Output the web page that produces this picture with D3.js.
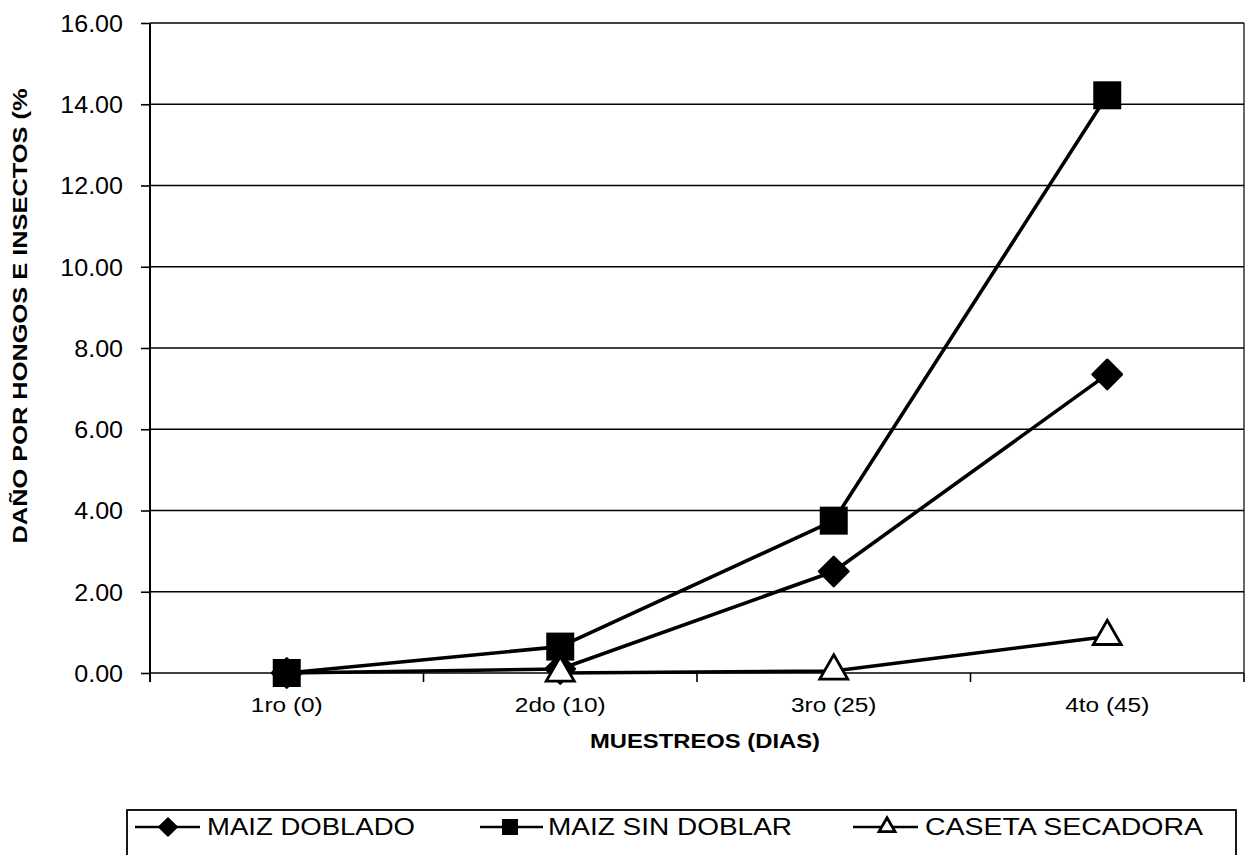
<!DOCTYPE html>
<html>
<head>
<meta charset="utf-8">
<script src="https://cdn.jsdelivr.net/npm/d3@7"></script>
<style>
  html, body { margin: 0; padding: 0; background: #fff; }
  svg { display: block; }
  text { font-family: "Liberation Sans", Arial, sans-serif; fill: #000; }
</style>
</head>
<body>
<svg id="chart" width="1246" height="855"></svg>
<script>
// Sampling rounds (days since start)
const categories = ["1ro (0)", "2do (10)", "3ro (25)", "4to (45)"];

// Damage by fungi and insects (%) per treatment
const maizDoblado    = [0.00, 0.10, 2.50, 7.35];
const maizSinDoblar  = [0.00, 0.65, 3.75, 14.22];
const casetaSecadora = [null, 0.00, 0.05, 0.90];

const seriesNames = ["MAIZ DOBLADO", "MAIZ SIN DOBLAR", "CASETA SECADORA"];
const yTicks = [0, 2, 4, 6, 8, 10, 12, 14, 16];

const yTitle = "DAÑO POR HONGOS E INSECTOS (%";
const xTitle = "MUESTREOS (DIAS)";

const svg = d3.select("#chart");
const plot = { left: 150, right: 1244, top: 23, bottom: 673 };

const x = d3.scaleBand().domain(categories).range([plot.left, plot.right]);
const y = d3.scaleLinear().domain([0, 16]).range([plot.bottom, plot.top]);

// stretch text horizontally by a factor (glyphs wider than plain Arial)
function stretch(sel, factor) {
  sel.each(function () {
    const w = this.getComputedTextLength();
    d3.select(this).attr("textLength", w * factor).attr("lengthAdjust", "spacingAndGlyphs");
  });
}

// right border of the plot area
svg.append("line")
  .attr("x1", plot.right).attr("x2", plot.right)
  .attr("y1", plot.top).attr("y2", plot.bottom)
  .attr("stroke", "#000").attr("stroke-width", 1.2);

// horizontal gridlines
svg.append("g").selectAll("line").data(yTicks).join("line")
  .attr("x1", plot.left).attr("x2", plot.right)
  .attr("y1", d => y(d)).attr("y2", d => y(d))
  .attr("stroke", "#000").attr("stroke-width", 1.6);

// y axis
const yAxis = svg.append("g")
  .attr("transform", `translate(${plot.left},0)`)
  .call(d3.axisLeft(y).tickValues(yTicks).tickFormat(d3.format(".2f")).tickSize(9).tickPadding(18));
yAxis.select(".domain").attr("stroke", "#000").attr("stroke-width", 2)
  .attr("d", `M0,${plot.top}V${plot.bottom + 9}`);
yAxis.selectAll(".tick line").attr("stroke", "#000").attr("stroke-width", 1.6);
yAxis.selectAll(".tick text")
  .attr("font-family", "Liberation Sans, Arial, sans-serif")
  .attr("font-size", 23).attr("fill", "#000").attr("dy", "0.36em");
stretch(yAxis.selectAll(".tick text"), 1.09);

// x axis: category labels and tick marks at category boundaries
const xAxis = svg.append("g")
  .attr("transform", `translate(0,${plot.bottom})`)
  .call(d3.axisBottom(x).tickSize(0).tickPadding(25));
xAxis.select(".domain").remove();
xAxis.selectAll(".tick text")
  .attr("font-family", "Liberation Sans, Arial, sans-serif")
  .attr("font-size", 20).attr("fill", "#000");
stretch(xAxis.selectAll(".tick text"), 1.22);

const boundaries = categories.map(c => x(c)).concat([plot.right]).slice(1);
svg.append("g").selectAll("line").data(boundaries).join("line")
  .attr("x1", d => d).attr("x2", d => d)
  .attr("y1", plot.bottom).attr("y2", plot.bottom + 9)
  .attr("stroke", "#000").attr("stroke-width", 1.6);

// axis titles
svg.append("text")
  .attr("transform", "translate(27,316) rotate(-90)")
  .attr("text-anchor", "middle")
  .attr("font-weight", "bold").attr("font-size", 20)
  .attr("textLength", 455).attr("lengthAdjust", "spacingAndGlyphs")
  .text(yTitle);

const xt = svg.append("text")
  .attr("x", 705).attr("y", 748)
  .attr("text-anchor", "middle")
  .attr("font-weight", "bold").attr("font-size", 19.5)
  .text(xTitle);
stretch(xt, 1.22);

// series lines and markers
const cx = c => x(c) + x.bandwidth() / 2;
const line = d3.line()
  .defined(d => d.v !== null)
  .x(d => cx(d.c)).y(d => y(d.v));

const series = [
  { name: seriesNames[0], values: maizDoblado, shape: "diamond" },
  { name: seriesNames[1], values: maizSinDoblar, shape: "square" },
  { name: seriesNames[2], values: casetaSecadora, shape: "triangle" }
];

function markerPath(shape, s) {
  if (shape === "square") return d3.symbol(d3.symbolSquare, s * s)();
  if (shape === "diamond") return d3.symbol(d3.symbolSquare, (s * 0.74) * (s * 0.74))();
  return d3.symbol(d3.symbolTriangle, 0.433 * s * s)();
}
function drawMarker(g, shape, s) {
  const p = g.append("path").attr("d", markerPath(shape, s));
  if (shape === "diamond") {
    p.attr("transform", "rotate(45)").attr("fill", "#000")
      .attr("stroke", "#000").attr("stroke-width", 2.5).attr("stroke-linejoin", "round");
  } else if (shape === "square") {
    p.attr("fill", "#000");
  } else {
    p.attr("fill", "#fff").attr("stroke", "#000").attr("stroke-width", 2.8)
      .attr("stroke-linejoin", "miter");
  }
}

series.forEach(s => {
  const pts = categories.map((c, i) => ({ c, v: s.values[i] }));
  const g = svg.append("g");
  g.append("path").datum(pts)
    .attr("d", line)
    .attr("fill", "none").attr("stroke", "#000").attr("stroke-width", 3.6)
    .attr("stroke-linejoin", "round");
  g.selectAll("g.mk").data(pts.filter(d => d.v !== null)).join("g")
    .attr("class", "mk")
    .attr("transform", d => `translate(${cx(d.c)},${y(d.v)})`)
    .each(function () { drawMarker(d3.select(this), s.shape, 28); });
});

// legend
const legend = svg.append("g");
legend.append("rect")
  .attr("x", 127).attr("y", 810).attr("width", 1109).attr("height", 80)
  .attr("fill", "#fff").attr("stroke", "#000").attr("stroke-width", 1.8);

const legendItems = [
  { lx1: 135, lx2: 200, mx: 168, tx: 207, tw: 208 },
  { lx1: 480, lx2: 543, mx: 510, tx: 548, tw: 244 },
  { lx1: 853, lx2: 918, mx: 887, tx: 925, tw: 278 }
];
series.forEach((s, i) => {
  const it = legendItems[i];
  const ly = 827;
  legend.append("line")
    .attr("x1", it.lx1).attr("x2", it.lx2).attr("y1", ly).attr("y2", ly)
    .attr("stroke", "#000").attr("stroke-width", 2.6);
  const mg = legend.append("g").attr("transform", `translate(${it.mx},${ly})`);
  drawMarker(mg, s.shape, 16);
  legend.append("text")
    .attr("x", it.tx).attr("y", 835)
    .attr("font-size", 23)
    .attr("textLength", it.tw).attr("lengthAdjust", "spacingAndGlyphs")
    .text(s.name);
});
</script>
</body>
</html>
